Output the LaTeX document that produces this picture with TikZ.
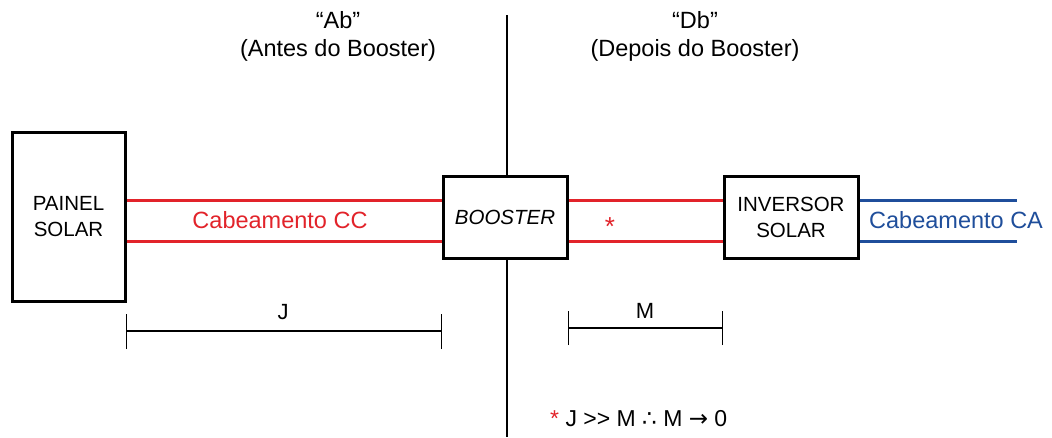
\documentclass[tikz,border=0pt]{standalone}
\usepackage{fontspec}
\setmainfont{Liberation Sans}
\newfontfamily\symfont{DejaVu Sans}
\definecolor{cabred}{RGB}{226,35,42}
\definecolor{cabblue}{RGB}{31,78,155}
\begin{document}
\begin{tikzpicture}[x=1pt,y=-1pt,
  box/.style={draw=black,line width=3pt,inner sep=0pt,align=center,font=\fontsize{20.5}{26}\selectfont},
  redwire/.style={draw=cabred,line width=3pt},
  bluewire/.style={draw=cabblue,line width=3pt},
  dimline/.style={draw=black,line width=1.4pt},
  lbl/.style={inner sep=0pt,align=center,font=\fontsize{23.5}{28}\selectfont},
  dimlbl/.style={inner sep=0pt,font=\fontsize{22}{26}\selectfont}]
\useasboundingbox (0,0) rectangle (1052,437);
\fill[white] (0,0) rectangle (1052,437);
% boxes
\node[box,minimum width=113pt,minimum height=169pt] (painel) at (68.5,216.5) {PAINEL\\SOLAR};
\node[box,minimum width=124pt,minimum height=82pt] (booster) at (505,217) {\itshape BOOSTER};
\node[box,minimum width=134pt,minimum height=82pt] (inversor) at (791,217) {INVERSOR\\SOLAR};
% divider
\coordinate (vtop) at (507,15);
\coordinate (vbot) at (507,437);
\draw[line width=1.4pt] (vtop) -- (booster.north -| vtop);
\draw[line width=1.4pt] (booster.south -| vbot) -- (vbot);
% wire rows
\coordinate (rowA) at (0,200);
\coordinate (rowB) at (0,241);
\coordinate (caend) at (1017,0);
\draw[redwire] (painel.east |- rowA) -- (booster.west |- rowA);
\draw[redwire] (painel.east |- rowB) -- (booster.west |- rowB);
\draw[redwire] (booster.east |- rowA) -- (inversor.west |- rowA);
\draw[redwire] (booster.east |- rowB) -- (inversor.west |- rowB);
\draw[bluewire] (inversor.east |- rowA) -- (caend |- rowA);
\draw[bluewire] (inversor.east |- rowB) -- (caend |- rowB);
% labels
\node[lbl] (ab) at (338,36) {“Ab”\\(Antes do Booster)};
\node[lbl] (db) at (695,36) {“Db”\\(Depois do Booster)};
\node[lbl] (cc) at (280,220) {\textcolor{cabred}{Cabeamento CC}};
\node[lbl,font=\fontsize{26}{30}\selectfont] (star) at (610,227) {\textcolor{cabred}{*}};
\node[lbl,anchor=west] (ca) at (869,220) {\textcolor{cabblue}{Cabeamento CA}};
% dimension J
\coordinate (jrow) at (0,331);
\draw[dimline] (painel.east |- jrow) -- (booster.west |- jrow);
\draw[dimline] ([yshift=-18pt]painel.east |- jrow) -- ([yshift=17pt]painel.east |- jrow);
\draw[dimline] ([yshift=-18pt]booster.west |- jrow) -- ([yshift=17pt]booster.west |- jrow);
\node[dimlbl] (jl) at (283,312) {J};
% dimension M
\coordinate (mrow) at (0,328);
\draw[dimline] (booster.east |- mrow) -- (inversor.west |- mrow);
\draw[dimline] ([yshift=-17pt]booster.east |- mrow) -- ([yshift=17pt]booster.east |- mrow);
\draw[dimline] ([yshift=-17pt]inversor.west |- mrow) -- ([yshift=17pt]inversor.west |- mrow);
\node[dimlbl] (ml) at (645,311) {M};
% formula
\node[dimlbl,anchor=west,font=\fontsize{23}{26}\selectfont] (formula) at (550,419) {\textcolor{cabred}{*} J >{}> M {\symfont ∴} M {\symfont →} 0};
\end{tikzpicture}
\end{document}
